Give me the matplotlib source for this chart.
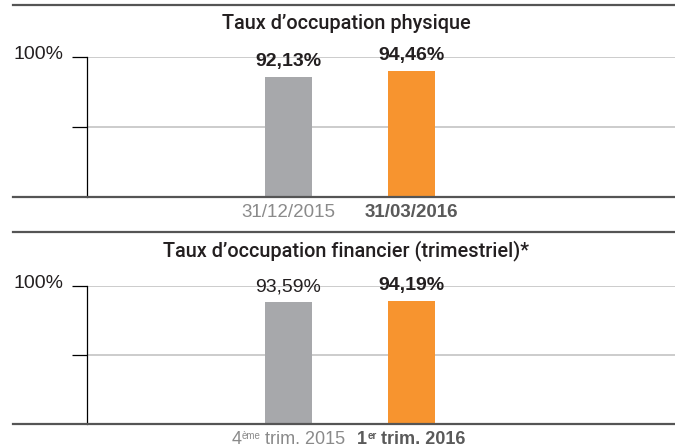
import matplotlib
matplotlib.use("Agg")
import matplotlib.pyplot as plt
from matplotlib.lines import Line2D
from matplotlib.offsetbox import TextArea, HPacker, AnnotationBbox

plt.rcParams['font.family'] = ['Liberation Sans', 'DejaVu Sans']

# data
titles = ["Taux d\u2019occupation physique",
          "Taux d\u2019occupation financier (trimestriel)*"]
periods_phys = [("31/12/2015", "", ""), ("31/03/2016", "", "")]
periods_fin = [("4", "ème", " trim. 2015"), ("1", "er", " trim. 2016")]
taux_phys = [92.13, 94.46]
taux_fin = [93.59, 94.19]
labels_phys = ["92,13%", "94,46%"]
labels_fin = ["93,59%", "94,19%"]
weights_phys = ["bold", "bold"]
weights_fin = ["normal", "bold"]
colors = ["#a7a8ab", "#f7942f"]
tick_colors = ["#8a8a8a", "#5a5a5a"]
tick_weights = ["normal", "bold"]

W, H = 675, 448
fig = plt.figure(figsize=(W / 100, H / 100), dpi=100)

panels = [
    (titles[0], periods_phys, taux_phys, labels_phys, weights_phys, 5, 23.3, 57.3, 196.7),
    (titles[1], periods_fin, taux_fin, labels_fin, weights_fin, 232.3, 251, 286, 424.3),
]

for title, periods, vals, labs, wts, y_sep, y_title, y_top, y_base in panels:
    ax = fig.add_axes([87 / W, 1 - y_base / H, 588 / W, (y_base - y_top) / H])
    x = [0, 1]
    ax.bar(x, vals, width=0.382, color=colors, zorder=3)
    ax.set_ylim(45, 100)
    ax.set_xlim(-1.638, 3.142)
    ax.set_yticks([72.5, 100])
    ax.set_yticklabels([])
    ax.tick_params(axis="y", length=11, width=0.9, color="black")
    ax.annotate("100%", (0, 100), xycoords=("axes fraction", "data"),
                xytext=(-17, 2), textcoords="offset points", ha="right", va="center",
                fontsize=14, color="#231f20", annotation_clip=False)
    ax.yaxis.grid(True, color="#c8c8c8", lw=1.3)
    ax.set_axisbelow(True)
    for s in ["top", "right", "bottom"]:
        ax.spines[s].set_visible(False)
    ax.spines["left"].set_color("black")
    ax.spines["left"].set_linewidth(0.9)

    ax.set_xticks([])
    for xi, (main, sup, rest), c, w in zip(x, periods, tick_colors, tick_weights):
        fs = 13.5 if not sup else 13
        parts = [TextArea(main, textprops=dict(fontsize=fs, color=c, fontweight=w))]
        if sup:
            parts.append(TextArea(sup, textprops=dict(fontsize=7, color=c, fontweight=w)))
            parts.append(TextArea(rest, textprops=dict(fontsize=fs, color=c, fontweight=w)))
        box = HPacker(children=parts, align="top", pad=0, sep=0)
        ab = AnnotationBbox(box, (xi, 0), xycoords=("data", "axes fraction"),
                            xybox=(0, -5), boxcoords="offset points",
                            box_alignment=(0.5, 1), frameon=False,
                            annotation_clip=False)
        ax.add_artist(ab)

    for xi, v, lab, w in zip(x, vals, labs, wts):
        ax.annotate(lab, (xi, v), xytext=(0, 5), textcoords="offset points",
                    ha="center", va="bottom", fontsize=14, fontweight=w,
                    color="#231f20")

    fig.text(346 / W, 1 - y_title / H, title, ha="center", va="center",
             fontsize=14.3, fontweight="medium", family=["Roboto", "Liberation Sans"],
             color="#231f20")
    for yy in (y_sep, y_base):
        fig.add_artist(Line2D([13 / W, 1], [1 - yy / H] * 2, transform=fig.transFigure,
                              color="#555555", lw=1.6))

fig.savefig("out.png", dpi=100)
